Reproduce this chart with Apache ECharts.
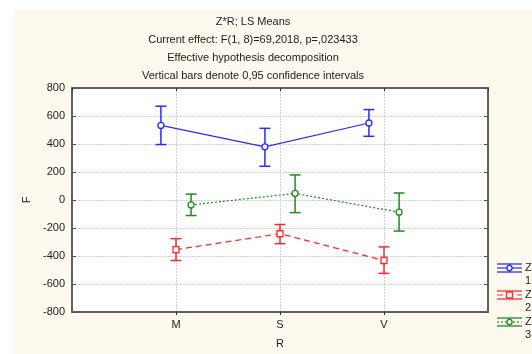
<!DOCTYPE html>
<html><head><meta charset="utf-8">
<script src="https://cdn.jsdelivr.net/npm/echarts@6/dist/echarts.min.js"></script>
<style>html,body{margin:0;padding:0;background:#fff}#c{width:532px;height:354px}</style>
</head><body><div id="c"></div>
<script>
const categories = ['M', 'S', 'V'];
const groupNames = ['1', '2', '3'];
const legendTitle = 'Z';
const xName = 'R';
const yName = 'F';
const titleLines = ['Z*R; LS Means', 'Current effect: F(1, 8)=69,2018, p=,023433', 'Effective hypothesis decomposition', 'Vertical bars denote 0,95 confidence intervals'];
const yTickValues = [-800, -600, -400, -200, 0, 200, 400, 600, 800];

const means1 = [533, 380, 550];
const lower1 = [396, 241, 455];
const upper1 = [670, 512, 646];
const means2 = [-354, -241, -432];
const lower2 = [-432, -312, -524];
const upper2 = [-276, -175, -335];
const means3 = [-35, 47, -87];
const lower3 = [-111, -90, -222];
const upper3 = [42, 179, 50];

const FONT = 'Liberation Sans, Arial, sans-serif';
const colors = ['#2a2aff', '#ff2a2a', '#1e8c1e'];
const lineTypes = ['solid', [6, 4], [2, 2]];
const markers = ['circle', 'rect', 'circle'];
const offsets = [-0.145, 0, 0.145];
const groups = [[means1, lower1, upper1], [means2, lower2, upper2], [means3, lower3, upper3]];

const chart = echarts.init(document.getElementById('c'), null, {renderer: 'canvas'});

const series = [];
groups.forEach((g, s) => {
  const [m, lo, hi] = g;
  series.push({
    type: 'line', xAxisIndex: 0, yAxisIndex: 0,
    data: m.map((v, i) => [i + 1 + offsets[s], v]),
    symbol: 'none', silent: true, animation: false,
    lineStyle: {color: colors[s], width: 1.2, type: lineTypes[s]}, z: 3
  });
  series.push({
    type: 'custom', xAxisIndex: 0, yAxisIndex: 0, animation: false, z: 4,
    data: m.map((v, i) => [i + 1 + offsets[s], v, lo[i], hi[i]]),
    renderItem: function (params, api) {
      const c = api.coord([api.value(0), api.value(1)]);
      const l = api.coord([api.value(0), api.value(2)]);
      const h = api.coord([api.value(0), api.value(3)]);
      const st = {stroke: colors[s], lineWidth: 1.5};
      const hw = 5.5;
      const ch = [
        {type: 'line', shape: {x1: c[0], y1: l[1], x2: c[0], y2: h[1]}, style: st},
        {type: 'line', shape: {x1: c[0] - hw, y1: l[1], x2: c[0] + hw, y2: l[1]}, style: st},
        {type: 'line', shape: {x1: c[0] - hw, y1: h[1], x2: c[0] + hw, y2: h[1]}, style: st}
      ];
      if (markers[s] === 'rect') {
        ch.push({type: 'rect', shape: {x: c[0] - 3, y: c[1] - 3, width: 6, height: 6}, style: {fill: '#fff', stroke: colors[s], lineWidth: 1.3}});
      } else {
        ch.push({type: 'circle', shape: {cx: c[0], cy: c[1], r: 3}, style: {fill: '#fff', stroke: colors[s], lineWidth: 1.3}});
      }
      return {type: 'group', children: ch};
    }
  });
});

const graphics = [
  {type: 'rect', shape: {x: 13, y: 10, width: 519, height: 344}, style: {fill: '#fef9ee'}, z: -10, silent: true}
];
const titleY = [22, 40, 58, 76];
titleLines.forEach((t, i) => {
  graphics.push({type: 'text', x: 253, y: titleY[i], style: {text: t, font: '11px ' + FONT, fill: '#222', textAlign: 'center', textVerticalAlign: 'middle'}});
});
const legY = [268, 295, 322];
groupNames.forEach((n, s) => {
  const y = legY[s];
  const x0 = 497, x1 = 522, xc = 509.5;
  graphics.push({type: 'line', shape: {x1: x0, y1: y - 4, x2: x1, y2: y - 4}, style: {stroke: colors[s], lineWidth: 1.3}});
  graphics.push({type: 'line', shape: {x1: x0, y1: y + 4, x2: x1, y2: y + 4}, style: {stroke: colors[s], lineWidth: 1.3}});
  graphics.push({type: 'line', shape: {x1: x0, y1: y, x2: x1, y2: y}, style: {stroke: colors[s], lineWidth: 1.2, lineDash: s === 0 ? null : lineTypes[s]}});
  graphics.push({type: 'line', shape: {x1: xc, y1: y - 4, x2: xc, y2: y + 4}, style: {stroke: colors[s], lineWidth: 1.3}});
  if (markers[s] === 'rect') {
    graphics.push({type: 'rect', shape: {x: xc - 3, y: y - 3, width: 6, height: 6}, style: {fill: '#fff', stroke: colors[s], lineWidth: 1.3}});
  } else {
    graphics.push({type: 'circle', shape: {cx: xc, cy: y, r: 2.6}, style: {fill: '#fff', stroke: colors[s], lineWidth: 1.3}});
  }
  graphics.push({type: 'text', x: 525, y: y, style: {text: legendTitle, font: '11px ' + FONT, fill: '#222', textVerticalAlign: 'middle'}});
  graphics.push({type: 'text', x: 525, y: y + 13, style: {text: n, font: '11px ' + FONT, fill: '#222', textVerticalAlign: 'middle'}});
});

const axisLineStyle = {color: '#606060', width: 2};
const gridLineStyle = {color: '#cfcfcf', width: 1, type: [2, 1]};

chart.setOption({
  animation: false,
  backgroundColor: '#ffffff',
  grid: {left: 72, right: 44, top: 88, bottom: 40, show: true, backgroundColor: '#ffffff', borderWidth: 0},
  xAxis: [
    {type: 'value', min: 0, max: 4, interval: 1, position: 'bottom',
     name: xName, nameLocation: 'middle', nameGap: 26, nameTextStyle: {fontFamily: FONT, fontSize: 11, color: '#222'},
     axisLine: {onZero: false, lineStyle: axisLineStyle}, axisTick: {show: true, length: 3, lineStyle: {color: '#333'}},
     axisLabel: {margin: 7, fontFamily: FONT, fontSize: 11, color: '#222', formatter: v => categories[v - 1] || '', showMinLabel: false, showMaxLabel: false},
     splitLine: {show: true, lineStyle: gridLineStyle}},
    {type: 'value', min: 0, max: 4, interval: 1, position: 'top',
     axisLine: {onZero: false, lineStyle: axisLineStyle}, axisTick: {show: true, inside: true, length: 3, lineStyle: {color: '#333'}},
     axisLabel: {show: false}, splitLine: {show: false}}
  ],
  yAxis: [
    {type: 'value', min: -800, max: 800, interval: 200, position: 'left',
     name: yName, nameLocation: 'middle', nameGap: 38, nameRotate: 90, nameTextStyle: {fontFamily: FONT, fontSize: 11, color: '#222'},
     axisLine: {show: true, onZero: false, lineStyle: axisLineStyle}, axisTick: {show: true, inside: true, length: 4, lineStyle: {color: '#555'}},
     axisLabel: {margin: 7, fontFamily: FONT, fontSize: 11, color: '#222', formatter: v => yTickValues.includes(v) ? String(v) : ''},
     splitLine: {show: true, lineStyle: gridLineStyle}},
    {type: 'value', min: -800, max: 800, interval: 200, position: 'right',
     axisLine: {show: true, onZero: false, lineStyle: axisLineStyle}, axisTick: {show: true, inside: true, length: 4, lineStyle: {color: '#555'}},
     axisLabel: {show: false}, splitLine: {show: false}}
  ],
  graphic: graphics,
  series: series
});
</script>
</body></html>
